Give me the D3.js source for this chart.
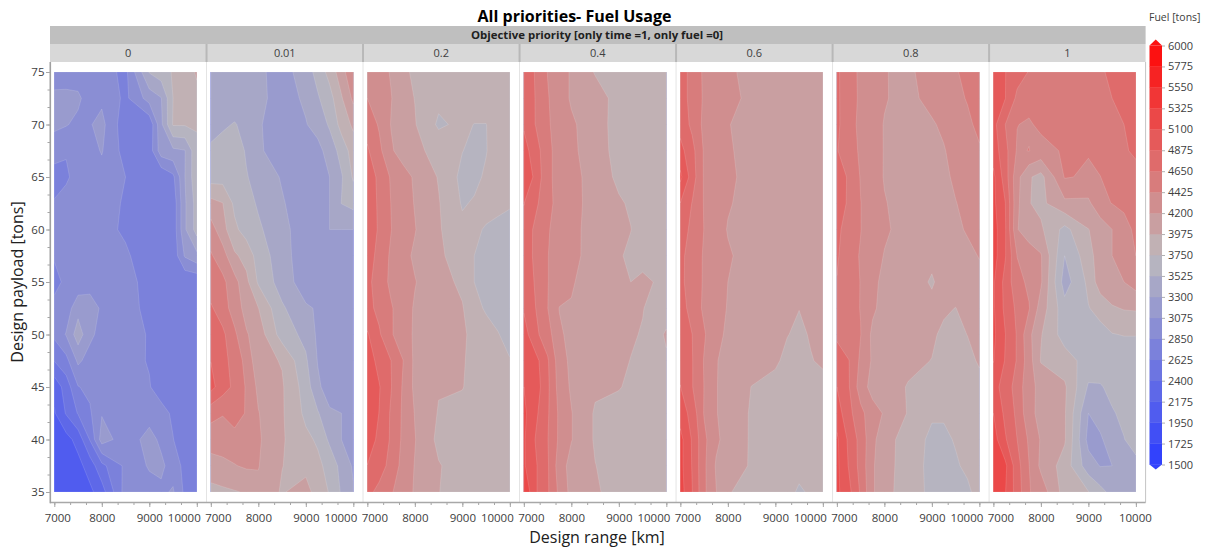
<!DOCTYPE html>
<html><head><meta charset="utf-8">
<script src="https://cdnjs.cloudflare.com/ajax/libs/d3/7.8.5/d3.min.js"></script>
<style>html,body{margin:0;padding:0;background:#fff}svg{display:block}text{font-family:"Open Sans",sans-serif;fill:#404040}</style>
</head><body><svg id="c" width="1217" height="550"></svg>
<script>
const priorities=["0","0.01","0.2","0.4","0.6","0.8","1"];
const rangeGrid=[7000,7250,7500,7750,8000,8500,9000,9250,9500,9750,10000];
const payloadGrid=[75,72.5,70,67.5,65,62.5,60,57.5,55,52.5,50,47.5,45,42.5,40,37.5,35];
const xTicks=[7000,8000,9000,10000];
const yTicks=[35,40,45,50,55,60,65,70,75];
const levels=[1500,1725,1950,2175,2400,2625,2850,3075,3300,3525,3750,3975,4200,4425,4650,4875,5100,5325,5550,5775,6000];
const fuel0=[
[2960,2950,2950,2950,2950,2790,3540,3650,3770,3860,4000],
[3130,3140,3120,2960,3030,2800,3170,3290,3750,3860,3920],
[3140,3090,3020,3060,3140,2700,2680,3250,3770,3770,3770],
[2900,2860,2950,3000,3090,2760,2720,3200,3250,3290,3700],
[2800,2830,2900,2950,3000,2850,2650,2650,2800,3300,3700],
[2860,2900,2920,2950,2960,2820,2650,2650,2700,3270,3620],
[2880,2900,2930,2940,2950,2800,2650,2650,2700,3270,3620],
[2870,2900,2920,2930,2950,2900,2660,2650,2700,3100,3240],
[2780,2900,2930,2950,2960,2950,2750,2650,2650,2650,2660],
[2920,2960,3220,3220,3030,2950,2780,2680,2650,2650,2650],
[2900,3090,3420,3130,2990,2960,2830,2680,2650,2650,2650],
[2630,2780,3120,2980,2960,2950,2830,2650,2640,2640,2640],
[2250,2500,2840,2900,2950,2950,2870,2700,2660,2650,2650],
[2150,2420,2640,2820,3060,2920,2990,2960,2800,2650,2650],
[2000,2090,2260,2640,3180,2960,3150,3030,2860,2650,2700],
[2000,2020,2100,2280,2560,2900,3100,3120,2980,2780,2660],
[2000,2000,2000,2120,2300,2950,2980,3030,3100,2800,2720]];
const fuel1=[
[3400,3400,3400,3400,3350,3200,3420,3600,3830,4100,4400],
[3400,3400,3400,3400,3350,3220,3330,3500,3660,3950,4250],
[3450,3490,3540,3460,3320,3200,3290,3370,3560,3830,4020],
[3560,3620,3650,3500,3330,3200,3200,3240,3380,3620,3850],
[3650,3660,3640,3540,3440,3280,3190,3200,3300,3500,3780],
[4050,3980,3700,3600,3500,3320,3170,3180,3300,3530,3600],
[4300,4060,3800,3650,3560,3380,3150,3150,3300,3300,3300],
[4450,4300,4010,3900,3650,3400,3150,3100,3100,3100,3100],
[4530,4480,4280,4030,3720,3420,3180,3100,3100,3100,3100],
[4680,4530,4320,4120,3980,3560,3330,3280,3150,3100,3100],
[4860,4700,4470,4220,4100,3650,3460,3260,3150,3100,3100],
[4870,4720,4570,4350,4050,3960,3560,3290,3150,3100,3100],
[4950,4750,4600,4400,4150,4000,3650,3340,3200,3100,3100],
[4500,4440,4560,4400,4210,4000,3700,3550,3330,3300,3120],
[4300,4300,4320,4300,4230,4000,3800,3720,3480,3300,3150],
[4110,4150,4190,4230,4210,3980,3880,3800,3680,3450,3270],
[3900,3930,3960,3990,4150,3950,4100,3830,3740,3500,3320]];
const fuel2=[
[4400,4300,4180,4030,3930,3900,3870,3870,3870,3870,3870],
[4425,4330,4210,4050,3970,3800,3850,3870,3870,3870,3870],
[4560,4400,4190,4100,3990,3715,3800,3745,3745,3860,3870],
[4680,4480,4230,4100,4030,3900,3755,3700,3740,3860,3880],
[4780,4600,4400,4290,4170,3960,3690,3700,3780,3850,3860],
[4800,4610,4420,4290,4190,3990,3730,3770,3830,3810,3770],
[4800,4620,4430,4300,4210,4000,3800,3790,3730,3690,3680],
[4770,4570,4390,4260,4170,4010,3880,3750,3680,3670,3670],
[4700,4560,4370,4280,4210,4060,3930,3750,3640,3650,3660],
[4720,4590,4450,4290,4180,4080,3990,3830,3720,3680,3680],
[4900,4680,4450,4300,4170,4070,3990,3950,3850,3760,3680],
[5000,4800,4650,4430,4150,4050,3990,3930,3870,3810,3760],
[5030,4890,4660,4400,4150,3990,3985,3900,3870,3850,3840],
[5030,4870,4620,4390,4190,3960,3900,3900,3900,3900,3900],
[5000,4820,4620,4380,4210,3920,3880,3880,3880,3880,3880],
[4870,4730,4590,4340,4190,3990,3880,3880,3880,3880,3880],
[4700,4600,4450,4300,4180,3980,3880,3880,3880,3880,3880]];
const fuel3=[
[4800,4630,4420,4320,4170,3960,3880,3880,3880,3880,3880],
[4800,4640,4440,4320,4170,4070,3900,3880,3880,3880,3880],
[4850,4640,4450,4340,4240,4060,3900,3880,3880,3880,3880],
[4950,4770,4460,4370,4260,4050,3920,3880,3880,3880,3880],
[5050,4820,4460,4370,4280,4100,3930,3880,3880,3880,3880],
[4880,4700,4470,4370,4280,4110,4000,3950,3880,3880,3880],
[4820,4590,4440,4360,4270,4100,4030,3980,3880,3880,3880],
[4830,4580,4430,4350,4260,4110,4000,3930,3900,3880,3880],
[4830,4620,4430,4350,4230,4040,4000,3975,4020,3970,3880],
[4850,4650,4430,4190,4180,4100,4060,4030,3985,3900,3880],
[4980,4700,4520,4240,4130,4080,4040,4000,3960,3900,4000],
[5050,4950,4680,4300,4150,4070,4020,3970,3900,3880,3950],
[5100,4990,4700,4330,4170,4010,3990,3930,3880,3880,3880],
[5150,4920,4680,4380,4210,3950,3880,3880,3880,3880,3880],
[5130,4860,4660,4380,4210,3950,3880,3880,3880,3880,3880],
[5130,4900,4680,4310,4120,3980,3880,3880,3880,3880,3880],
[5300,4900,4680,4370,4130,4000,3900,3880,3880,3880,3880]];
const fuel4=[
[4720,4600,4380,4300,4230,4150,4100,4100,4100,4100,4200],
[4720,4600,4390,4310,4250,4160,4100,4100,4100,4100,4100],
[4790,4600,4370,4280,4210,4120,4100,4100,4100,4100,4100],
[4950,4720,4400,4300,4220,4140,4100,4100,4100,4100,4100],
[5150,4760,4400,4300,4230,4150,4100,4100,4100,4100,4100],
[4870,4640,4410,4300,4215,4140,4100,4100,4100,4100,4100],
[4770,4590,4420,4280,4190,4130,4100,4100,4100,4100,4100],
[4700,4560,4400,4290,4220,4130,4100,4100,4100,4100,4100],
[4700,4550,4400,4280,4200,4130,4120,4100,4100,4100,4100],
[4730,4580,4380,4270,4190,4120,4090,4050,3980,4050,4100],
[4780,4650,4450,4250,4170,4100,4050,3985,3920,4000,4100],
[4820,4660,4410,4210,4150,4080,4020,3900,3880,3960,4020],
[4880,4660,4420,4210,4130,3970,3880,3880,3880,3880,3880],
[5000,4790,4410,4210,4130,3950,3880,3880,3880,3880,3880],
[5170,4850,4480,4240,4120,3950,3880,3880,3880,3880,3880],
[5170,4860,4470,4180,4050,3960,3880,3880,3860,3870,3880],
[5200,4880,4470,4210,3990,3900,3880,3860,3700,3800,3860]];
const fuel5=[
[4700,4480,4400,4300,4210,4150,4320,4340,4400,4500,4560],
[4700,4490,4400,4300,4215,4130,4280,4330,4370,4440,4520],
[4700,4500,4380,4280,4190,4120,4170,4250,4310,4380,4480],
[4670,4470,4410,4290,4190,4120,4130,4180,4300,4340,4400],
[4740,4630,4410,4280,4190,4120,4110,4140,4250,4320,4370],
[4760,4620,4430,4290,4210,4130,4100,4120,4190,4280,4350],
[4720,4520,4430,4300,4230,4120,4100,4110,4160,4220,4300],
[4680,4500,4410,4290,4190,4100,4030,4080,4120,4150,4210],
[4640,4500,4420,4230,4170,4100,3950,4060,4100,4120,4140],
[4540,4480,4420,4240,4120,4100,4040,4010,3970,4060,4120],
[4610,4460,4430,4150,4100,4090,4010,3930,3900,3980,4090],
[4760,4660,4380,4170,4100,4030,3970,3900,3880,3890,4010],
[4875,4670,4310,4120,4090,3960,3880,3880,3880,3880,3880],
[4990,4720,4490,4290,4180,3960,3780,3780,3860,3880,3880],
[5140,4830,4570,4260,4060,3880,3700,3700,3770,3850,3880],
[5150,4860,4570,4230,4050,3880,3680,3670,3720,3800,3860],
[5150,4940,4620,4230,4050,3860,3700,3680,3680,3700,3850]];
const fuel6=[
[4950,4880,4740,4640,4600,4570,4590,4630,4680,4720,4780],
[4950,4880,4600,4500,4550,4570,4590,4620,4650,4710,4770],
[4950,4650,4430,4400,4470,4510,4540,4580,4610,4650,4750],
[5000,4720,4400,4430,4350,4450,4435,4530,4590,4630,4680],
[5150,4760,4270,4000,3900,4440,4400,4420,4540,4560,4590],
[5150,4880,4250,3985,3920,4150,4150,4380,4430,4480,4520],
[5200,4900,4210,4100,4010,3680,3970,4050,4200,4330,4480],
[5200,4890,4420,4300,4220,3525,3880,4100,4200,4350,4425],
[5130,4800,4500,4380,4230,3420,3800,4100,4150,4200,4300],
[5130,4820,4600,4440,4100,3610,3740,3820,3950,3990,4000],
[5150,4880,4630,4260,3990,3650,3640,3680,3740,3760,3760],
[5110,4860,4630,4300,3960,3860,3650,3620,3600,3600,3600],
[4960,4780,4550,4280,4130,4010,3500,3510,3570,3570,3570],
[5100,4820,4600,4270,4130,4000,3300,3410,3510,3560,3600],
[5200,4900,4650,4390,4180,4000,3230,3260,3440,3520,3590],
[5280,5150,4740,4430,4150,3880,3400,3290,3300,3450,3480],
[5300,5110,4770,4440,4330,3880,3760,3600,3450,3450,3450]];
const fuelPanels=[fuel0,fuel1,fuel2,fuel3,fuel4,fuel5,fuel6];

const svg=d3.select("#c");
const frameL=50,frameR=1145.6,stripTop=26,stripMid=44,stripBot=62,axisY=502.5;
const panelW=(frameR-frameL)/priorities.length,padL=4.3,plotW=142.5;
const y=d3.scaleLinear().domain([35,75]).range([492,72]);
const color=d3.scaleLinear().domain([1500,3750,4537,4987,6000])
  .range(["#2b3cff","#bdbabd","#d87c7c","#e55a5a","#ff0808"]);
const bandColor=(lo)=>color(lo+112.5);

// strips
svg.append("rect").attr("x",frameL).attr("y",stripTop).attr("width",frameR-frameL).attr("height",stripMid-stripTop).attr("fill","#bfbfbf");
svg.append("rect").attr("x",frameL).attr("y",stripMid).attr("width",frameR-frameL).attr("height",stripBot-stripMid).attr("fill","#d8d8d8");
svg.append("text").attr("x",597).attr("y",39.3).attr("text-anchor","middle").attr("font-size",11.4).attr("font-weight",700).style("fill","#202020").text("Objective priority [only time =1, only fuel =0]");
svg.append("text").attr("x",574.5).attr("y",21.5).attr("text-anchor","middle").attr("font-size",16).attr("font-weight",700).style("fill","#000").text("All priorities- Fuel Usage");

const contours=d3.contours().size([rangeGrid.length,payloadGrid.length]).thresholds(levels.slice(0,-1));
const colIdx=d3.scaleLinear().domain(rangeGrid.map((_,i)=>i)).range(rangeGrid).clamp(true);
const rowIdx=d3.scaleLinear().domain(payloadGrid.map((_,i)=>i)).range(payloadGrid).clamp(true);

priorities.forEach((p,k)=>{
  const left=frameL+k*panelW;
  const x=d3.scaleLinear().domain([7000,10000]).range([left+padL,left+padL+plotW]);
  if(k>0){
    svg.append("line").attr("x1",left).attr("x2",left).attr("y1",stripBot).attr("y2",axisY).attr("stroke","#e4e4e4");
    svg.append("line").attr("x1",left).attr("x2",left).attr("y1",stripMid).attr("y2",stripBot).attr("stroke","#b8b8b8").attr("stroke-width",2);
  }
  svg.append("text").attr("x",left+panelW/2).attr("y",57).attr("text-anchor","middle").attr("font-size",11).text(p);
  const path=d3.geoPath(d3.geoTransform({point(a,b){this.stream.point(x(colIdx(a-0.5)),y(rowIdx(b-0.5)));}}));
  const g=svg.append("g");
  g.selectAll("path").data(contours(fuelPanels[k].flat())).join("path")
    .attr("d",path).attr("fill",d=>bandColor(d.value)).attr("fill-rule","evenodd")
    .attr("stroke","#fff").attr("stroke-opacity",0.22).attr("stroke-width",0.6);
  // x axis
  const minor=d3.range(7000,10001,1000/3).map(Math.round);
  const aMin=svg.append("g").attr("transform",`translate(0,${axisY})`).call(d3.axisBottom(x).tickValues(minor).tickSize(2.5).tickFormat(""));
  const aMaj=svg.append("g").attr("transform",`translate(0,${axisY})`).call(d3.axisBottom(x).tickValues(xTicks).tickSize(4.5).tickPadding(7).tickFormat(d3.format("d")));
  [aMin,aMaj].forEach(a=>{a.select(".domain").remove();a.selectAll("line").attr("stroke","#a6a6a6");});
  aMaj.selectAll("text").attr("font-size",11.5).attr("font-family",'"Open Sans",sans-serif')
    .attr("dx",d=>d===7000?(k===0?3:7):d===10000?(k===priorities.length-1?-1:-13):0);
});

// frame
svg.append("line").attr("x1",frameR).attr("x2",frameR).attr("y1",stripBot).attr("y2",axisY).attr("stroke","#c4c4c4");
svg.append("line").attr("x1",frameL).attr("x2",frameR).attr("y1",axisY).attr("y2",axisY).attr("stroke","#a8a8a8").attr("stroke-width",1.6);
svg.append("line").attr("x1",frameL+.3).attr("x2",frameL+.3).attr("y1",stripBot).attr("y2",axisY+.8).attr("stroke","#a0a0a0").attr("stroke-width",1.6);

// y axis
const yMinor=d3.range(35,75.01,5/3);
const yMin=svg.append("g").attr("transform",`translate(${frameL},0)`).call(d3.axisLeft(y).tickValues(yMinor).tickSize(2.5).tickFormat(""));
const yMaj=svg.append("g").attr("transform",`translate(${frameL},0)`).call(d3.axisLeft(y).tickValues(yTicks).tickSize(4).tickPadding(1.5));
[yMin,yMaj].forEach(a=>{a.select(".domain").remove();a.selectAll("line").attr("stroke","#a6a6a6");});
yMaj.selectAll("text").attr("font-size",11.5).attr("font-family",'"Open Sans",sans-serif');

svg.append("text").attr("transform","translate(23,282) rotate(-90)").attr("text-anchor","middle").attr("font-size",16).style("fill","#202020").text("Design payload [tons]");
svg.append("text").attr("x",597).attr("y",543).attr("text-anchor","middle").attr("font-size",16).style("fill","#202020").text("Design range [km]");

// legend
const lx0=1149.5,lx1=1162,lY=d3.scaleLinear().domain([1500,6000]).range([464.5,45.5]);
svg.append("text").attr("x",1149).attr("y",21).attr("font-size",10.5).text("Fuel [tons]");
svg.selectAll("rect.band").data(levels.slice(0,-1)).join("rect").attr("class","band")
  .attr("x",lx0).attr("width",lx1-lx0).attr("y",d=>lY(d+225)).attr("height",d=>lY(d)-lY(d+225)+.3).attr("fill",bandColor);
svg.append("path").attr("d",`M${lx0},${lY(6000)}L${(lx0+lx1)/2},${lY(6000)-6}L${lx1},${lY(6000)}Z`).attr("fill",bandColor(5775));
svg.append("path").attr("d",`M${lx0},${lY(1500)}L${(lx0+lx1)/2},${lY(1500)+5}L${lx1},${lY(1500)}Z`).attr("fill",bandColor(1500));
const lAxis=svg.append("g").attr("transform",`translate(${lx1},0)`).call(d3.axisRight(lY).tickValues(levels).tickSize(3).tickPadding(3).tickFormat(d3.format("d")));
lAxis.select(".domain").remove();lAxis.selectAll("line").attr("stroke","#b0b0b0");
lAxis.selectAll("text").attr("font-size",11).attr("font-family",'"Open Sans",sans-serif');
</script></body></html>
